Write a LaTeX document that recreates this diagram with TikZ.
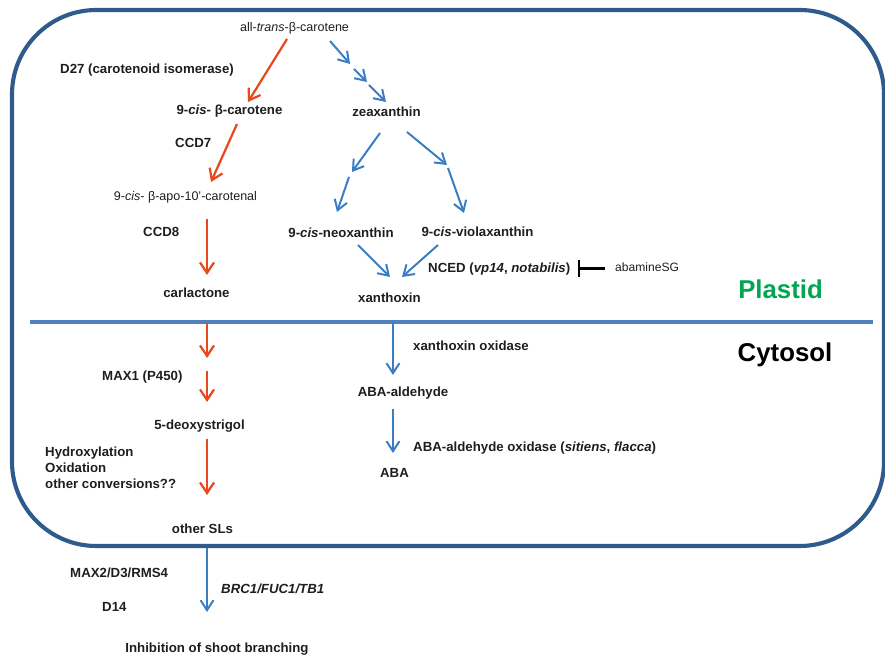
\documentclass[tikz,border=0pt]{standalone}
\usepackage{fontspec}
\setmainfont{Liberation Sans}
\usetikzlibrary{arrows.meta,positioning}

\definecolor{slred}{RGB}{232,72,30}
\definecolor{abablue}{RGB}{58,125,196}
\definecolor{cellline}{RGB}{46,90,140}
\definecolor{divline}{RGB}{79,129,189}
\definecolor{plastgreen}{RGB}{0,166,81}
\definecolor{txt}{RGB}{30,30,30}

\begin{document}
\begin{tikzpicture}[
  x=0.03cm, y=-0.03cm,
  lbl/.style={inner sep=0pt, text=txt, font=\fontsize{11.3}{13.7}\selectfont\bfseries},
  lbllight/.style={inner sep=0pt, text=txt, font=\fontsize{10.7}{13}\selectfont},
  comp/.style={inner sep=0pt, font=\fontsize{22}{26}\selectfont\bfseries},
  rarr/.style={-{Straight Barb[length=9pt,width=12pt]}, line width=1.9pt, slred},
  barr/.style={-{Straight Barb[length=8.5pt,width=11pt]}, line width=1.7pt, abablue},
  inh/.style={{Bar[width=15pt]}-, line width=1.8pt, black}
]
\useasboundingbox (0,0) rectangle (885,656);

% cell and plastid membrane
\draw[cellline, line width=3.5pt, rounded corners=72pt] (12,10) rectangle (884,546);
\draw[divline, line width=2.6pt] (30,322) -- (873,322);

% strigolactone branch
\node[lbllight, anchor=base] (allt) at (294.5,31.5) {all-\textit{trans}-β-carotene};
\node[lbl, anchor=base west] (d27) at (60,73.5) {D27 (carotenoid isomerase)};
\node[lbl, anchor=base] (cisbc) at (229.5,114.5) {9-\textit{cis}- β-carotene};
\node[lbl, anchor=base west] (ccd7) at (175,147.5) {CCD7};
\node[lbllight, anchor=base] (apo) at (185.5,200.5) {9-\textit{cis}- β-apo-10'-carotenal};
\node[lbl, anchor=base west] (ccd8) at (143,236.5) {CCD8};
\node[lbl, anchor=base] (carl) at (196.5,297.5) {carlactone};
\node[lbl, anchor=base west] (max1) at (102,380.5) {MAX1 (P450)};
\node[lbl, anchor=base] (deoxy) at (199.5,429.5) {5-deoxystrigol};
\node[lbl, anchor=west, align=left] (hydro) at (45,468) {Hydroxylation\\Oxidation\\other conversions??};
\node[lbl, anchor=base] (othsl) at (202.5,533.5) {other SLs};
\node[lbl, anchor=base west] (max2) at (70,577.5) {MAX2/D3/RMS4};
\node[lbl, anchor=base west] (brc) at (221,593.5) {\textit{BRC1/FUC1/TB1}};
\node[lbl, anchor=base west] (d14) at (102,611.5) {D14};
\node[lbl, anchor=base] (inhib) at (217,652.5) {Inhibition of shoot branching};

% ABA branch
\node[lbl, anchor=base] (zea) at (386.5,116.5) {zeaxanthin};
\node[lbl, anchor=base] (neo) at (341,237.5) {9-\textit{cis}-neoxanthin};
\node[lbl, anchor=base] (viola) at (477.5,236.5) {9-\textit{cis}-violaxanthin};
\node[lbl, anchor=base west] (nced) at (428,272.5) {NCED (\textit{vp14}, \textit{notabilis})};
\node[lbllight, font=\fontsize{10.3}{12}\selectfont, anchor=base west] (abam) at (615,271.5) {abamineSG};
\node[lbl, anchor=base] (xan) at (389.5,302.5) {xanthoxin};
\node[lbl, anchor=base west] (xoxid) at (413,350.5) {xanthoxin oxidase};
\node[lbl, anchor=base] (abaald) at (403,396.5) {ABA-aldehyde};
\node[lbl, anchor=base west] (aaoxid) at (413,451.5) {ABA-aldehyde oxidase (\textit{sitiens}, \textit{flacca})};
\node[lbl, anchor=base] (aba) at (394.5,477.5) {ABA};

% compartments
\node[comp, text=plastgreen, anchor=base] (plastid) at (780.5,298.5) {Plastid};
\node[comp, text=black, anchor=base] (cytosol) at (785,361.5) {Cytosol};

% arrow end points
\coordinate (r1a) at (287,39);   \coordinate (r1b) at (248,102);
\coordinate (r2a) at (237,124);  \coordinate (r2b) at (211,182);
\coordinate (r3a) at (207,219);  \coordinate (r3b) at (207,275);
\coordinate (r4a) at (207,323);  \coordinate (r4b) at (207,358);
\coordinate (r5a) at (207,371);  \coordinate (r5b) at (207,402);
\coordinate (r6a) at (207,439);  \coordinate (r6b) at (207,495);
\coordinate (z0) at (330,41);  \coordinate (z1) at (350,64);
\coordinate (z2) at (354,69);  \coordinate (z3) at (367,82);
\coordinate (z4) at (369,85);  \coordinate (z5) at (386,102);
\coordinate (n0) at (380,133); \coordinate (n1) at (352,172);
\coordinate (n2) at (349,177); \coordinate (n3) at (337,212);
\coordinate (v0) at (407,132); \coordinate (v1) at (447,165);
\coordinate (v2) at (448,168); \coordinate (v3) at (464,213);
\coordinate (nx) at (358,245); \coordinate (vx) at (438,245);
\coordinate (xa) at (390,277); \coordinate (xb) at (402,277);
\coordinate (o1a) at (393,323); \coordinate (o1b) at (393,375);
\coordinate (o2a) at (393,409); \coordinate (o2b) at (393,453);
\coordinate (s0) at (207,548);  \coordinate (s1) at (207,612);
\coordinate (blk) at (578,268.5); \coordinate (blk2) at (605,268.5);

\draw[rarr] (r1a) -- (r1b);
\draw[rarr] (r2a) -- (r2b);
\draw[rarr] (r3a) -- (r3b);
\draw[rarr] (r4a) -- (r4b);
\draw[rarr] (r5a) -- (r5b);
\draw[rarr] (r6a) -- (r6b);

\draw[barr] (z0) -- (z1);
\draw[barr] (z2) -- (z3);
\draw[barr] (z4) -- (z5);
\draw[barr] (n0) -- (n1);
\draw[barr] (n2) -- (n3);
\draw[barr] (v0) -- (v1);
\draw[barr] (v2) -- (v3);
\draw[barr] (nx) -- (xa);
\draw[barr] (vx) -- (xb);
\draw[barr] (o1a) -- (o1b);
\draw[barr] (o2a) -- (o2b);
\draw[barr] (s0) -- (s1);

\draw[inh] (blk) -- (blk2);
\end{tikzpicture}
\end{document}
